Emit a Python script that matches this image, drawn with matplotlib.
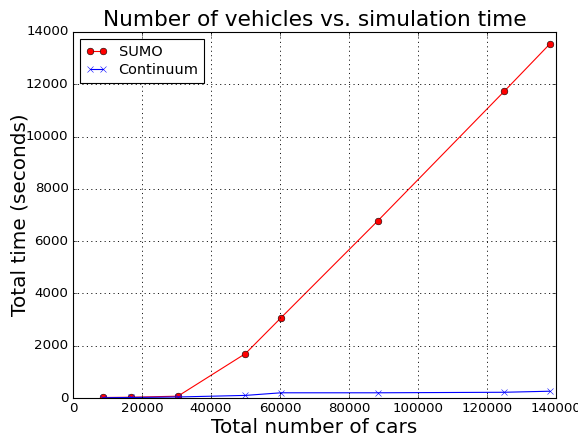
import matplotlib
matplotlib.use("Agg")
import matplotlib.pyplot as plt

# data
sumo_cars = [8700, 16800, 30400, 50000, 60300, 88300, 125000, 138200]
sumo_time = [20, 30, 70, 1700, 3070, 6770, 11730, 13540]

cont_cars = [8700, 16800, 30400, 50000, 60300, 88300, 125000, 138200]
cont_time = [10, 20, 40, 100, 200, 200, 220, 260]

plt.style.use("classic")

fig = plt.figure(figsize=(578 / 80, 437 / 80), dpi=80)
ax = fig.add_axes([0.1263, 0.0892, 0.8356, 0.8376])

ax.plot(sumo_cars, sumo_time, "o-", color="red", label="SUMO")
ax.plot(cont_cars, cont_time, "x-", color="blue", label="Continuum")

ax.set_xlim(0, 140000)
ax.set_ylim(0, 14000)
ax.grid(True, color="black", linestyle=":", linewidth=0.8)

ax.set_title("Number of vehicles vs. simulation time", fontsize=19.5)
ax.set_xlabel("Total number of cars", fontsize=18, labelpad=2)
ax.set_ylabel("Total time (seconds)", fontsize=18, labelpad=-3)
ax.legend(loc="upper left", fontsize=13, handlelength=1.45,
          borderpad=0.4, labelspacing=0.3)

fig.savefig("out.png", dpi=80)
